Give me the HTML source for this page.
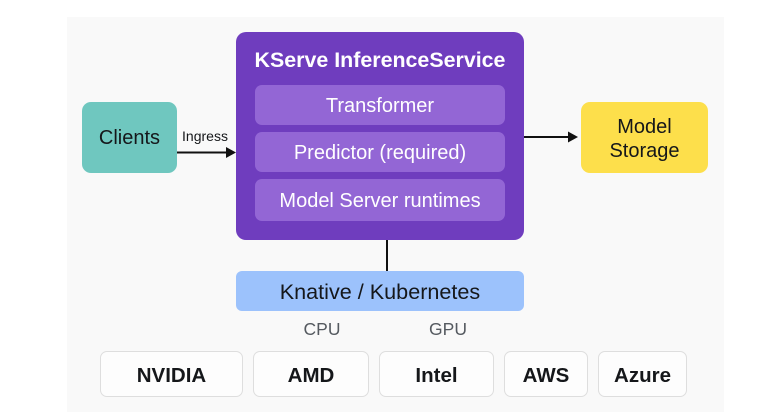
<!DOCTYPE html>
<html>
<head>
<meta charset="utf-8">
<style>
  html,body{margin:0;padding:0;background:#ffffff;}
  body{width:776px;height:418px;position:relative;overflow:hidden;font-family:"Liberation Sans",Arial,sans-serif;}
  .abs{position:absolute;box-sizing:border-box;}
  .panel{left:67px;top:17px;width:657px;height:395px;background:#f9f9f9;}
  .center{display:flex;align-items:center;justify-content:center;text-align:center;}
  .purple{left:236px;top:32px;width:288px;height:208px;background:#6f3dbe;border-radius:10px;}
  .title{left:236px;top:46px;width:288px;height:28px;color:#fff;font-size:21.4px;font-weight:bold;line-height:28px;text-align:center;}
  .inner{left:255px;width:250px;background:#9366d5;border-radius:7px;color:#fff;font-size:20px;padding-top:2px;}
  .clients{left:82px;top:102px;width:95px;height:71px;background:#6fc7bf;border-radius:9px;color:#15171a;font-size:20px;padding-top:2px;}
  .storage{left:581px;top:102px;width:127px;height:71px;background:#fddf4b;border-radius:9px;color:#15171a;font-size:20px;line-height:24px;padding-top:3px;}
  .knative{left:236px;top:271px;width:288px;height:40px;background:#9cc2fc;border-radius:6px;color:#15171a;font-size:21.6px;padding-top:1px;}
  .lbl{color:#555a60;font-size:17.5px;}
  .hw{top:351px;height:46px;background:#fdfdfd;border:1.3px solid #dedede;border-radius:7px;color:#15171a;font-size:20.5px;font-weight:bold;padding-top:3px;}
</style>
</head>
<body>
  <div class="abs panel"></div>

  <svg class="abs" style="left:0;top:0" width="776" height="418" viewBox="0 0 776 418">
    <line x1="177" y1="152.5" x2="228" y2="152.5" stroke="#111" stroke-width="2"/>
    <polygon points="226,147 236,152.5 226,158" fill="#111"/>
    <line x1="524" y1="137" x2="570" y2="137" stroke="#111" stroke-width="2"/>
    <polygon points="568,131.5 578,137 568,142.5" fill="#111"/>
    <line x1="387" y1="240" x2="387" y2="271" stroke="#111" stroke-width="2"/>
  </svg>

  <div class="abs center clients">Clients</div>
  <div class="abs" style="left:176px;top:128px;width:58px;text-align:center;font-size:14px;color:#15171a;">Ingress</div>

  <div class="abs purple"></div>
  <div class="abs title">KServe InferenceService</div>
  <div class="abs center inner" style="top:85px;height:40px;">Transformer</div>
  <div class="abs center inner" style="top:132px;height:40px;">Predictor (required)</div>
  <div class="abs center inner" style="top:179px;height:42px;">Model Server runtimes</div>

  <div class="abs center storage">Model<br>Storage</div>

  <div class="abs center knative">Knative / Kubernetes</div>

  <div class="abs center lbl" style="left:282px;top:318px;width:80px;height:22px;">CPU</div>
  <div class="abs center lbl" style="left:408px;top:318px;width:80px;height:22px;">GPU</div>

  <div class="abs center hw" style="left:100px;width:143px;">NVIDIA</div>
  <div class="abs center hw" style="left:253px;width:116px;">AMD</div>
  <div class="abs center hw" style="left:379px;width:115px;">Intel</div>
  <div class="abs center hw" style="left:504px;width:84px;">AWS</div>
  <div class="abs center hw" style="left:598px;width:89px;">Azure</div>
</body>
</html>
